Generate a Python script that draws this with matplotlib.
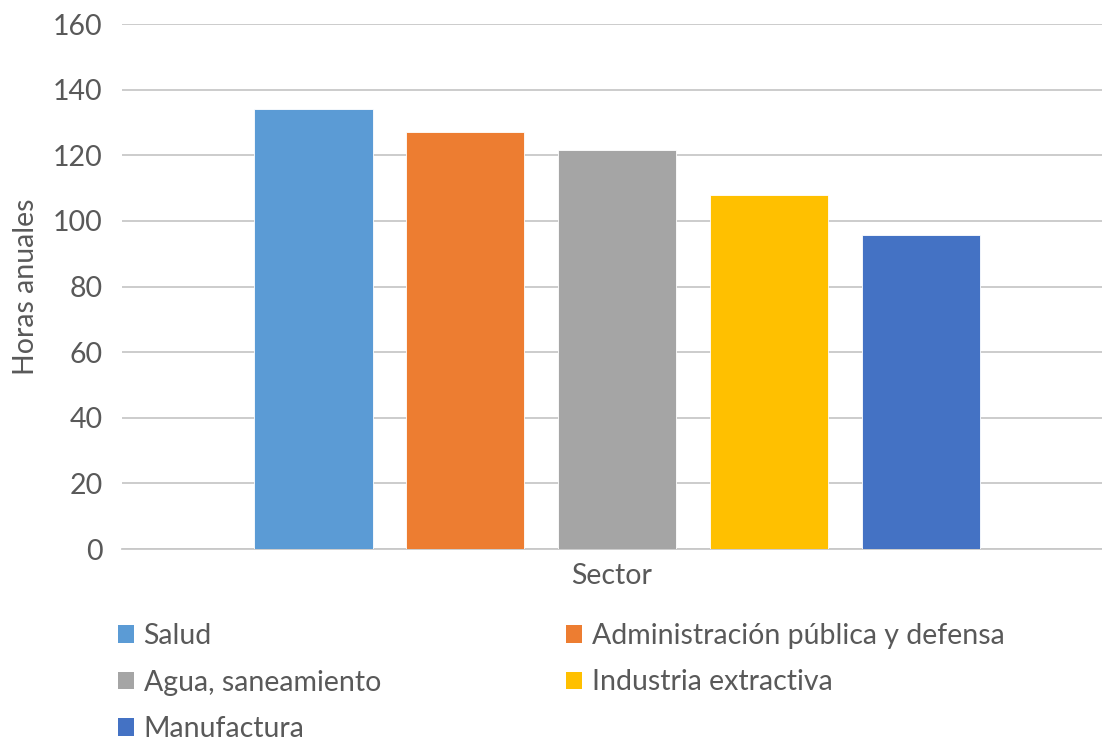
import numpy as np
import matplotlib.pyplot as plt
from matplotlib.patches import Patch

plt.rcParams["font.family"] = ["Lato", "DejaVu Sans"]
plt.rcParams["figure.dpi"] = 100
plt.rcParams["figure.facecolor"] = "white"

# %% data
sectores = ["Salud", "Administración pública y defensa", "Agua, saneamiento",
            "Industria extractiva", "Manufactura"]
horas = [134, 127, 121.5, 107.8, 95.6]
colores = ["#5B9BD5", "#ED7D31", "#A5A5A5", "#FFC000", "#4472C4"]
yticks = [0, 20, 40, 60, 80, 100, 120, 140, 160]

text_color = "#595959"
fs = 20.5

# %% plot
fig = plt.figure(figsize=(11.02, 7.45))
ax = fig.add_axes([0.1107, 0.263, 0.889, 0.7047])

x = np.arange(len(sectores))
bars = ax.bar(x, horas, width=0.78, color=colores, edgecolor="white", linewidth=0.6, zorder=3)

ax.set_ylim(0, 160)
ax.set_xlim(-1.26, 5.19)
ax.set_yticks(yticks)
ax.set_xticks([])
ax.yaxis.grid(True, color="#C8C8C8", linewidth=1.3, zorder=0)
ax.tick_params(axis="y", length=0, labelsize=fs, labelcolor=text_color, pad=14)
for side in ["top", "right", "left"]:
    ax.spines[side].set_visible(False)
ax.spines["bottom"].set_color("#C8C8C8")
ax.spines["bottom"].set_linewidth(1.3)

ax.set_xlabel("Sector", fontsize=fs, color=text_color, labelpad=10)
ax.set_ylabel("Horas anuales", fontsize=fs, color=text_color, labelpad=10)

# %% legend, two columns filled row by row
handles = [Patch(facecolor=c) for c in colores]
opts = dict(frameon=False, fontsize=fs, labelcolor=text_color, handlelength=0.55,
            handleheight=0.55, handletextpad=0.35, labelspacing=0.72, borderpad=0,
            borderaxespad=0, loc="upper left")
leg1 = fig.legend([handles[0], handles[2], handles[4]],
                  [sectores[0], sectores[2], sectores[4]],
                  bbox_to_anchor=(118 / 1102, 1 - 623 / 745), **opts)
leg2 = fig.legend([handles[1], handles[3]], [sectores[1], sectores[3]],
                  bbox_to_anchor=(566 / 1102, 1 - 623 / 745), **opts)

fig.savefig("out.png", dpi=100)
